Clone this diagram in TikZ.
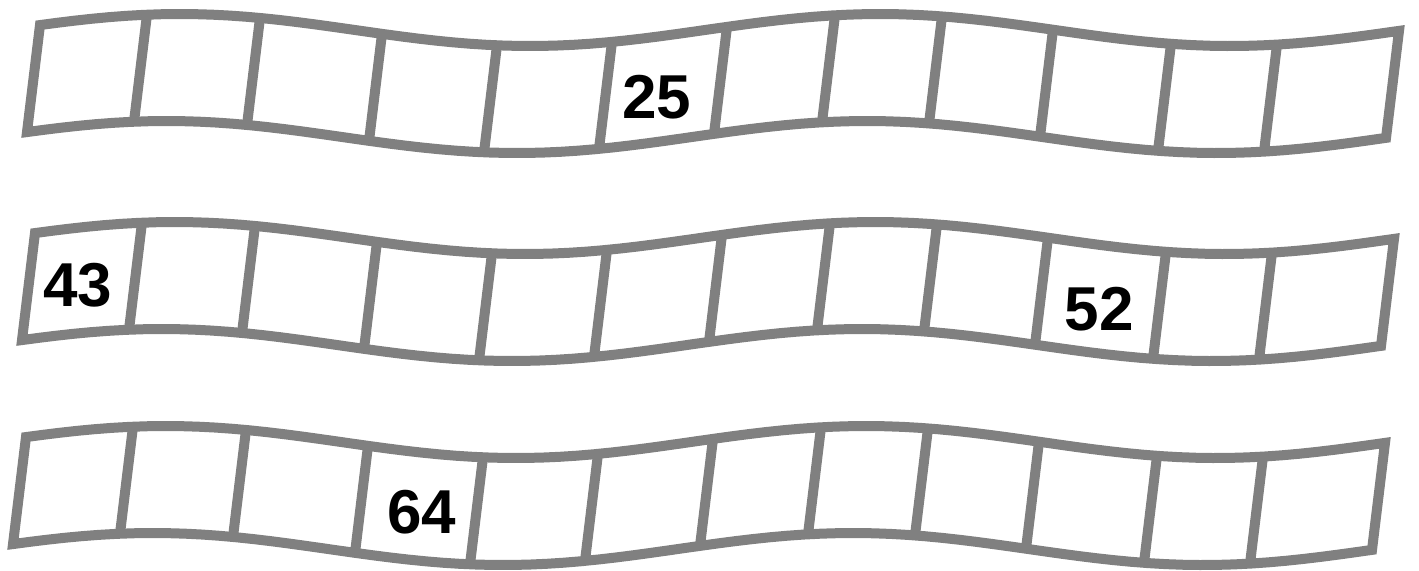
\documentclass[tikz,border=0pt]{standalone}
\usepackage{fontspec}
\setmainfont{Liberation Sans}
\tikzset{
  declare function={wtop(\x)=30-16*cos((\x-180)/700*360);},
  strip/.style={draw=gray, line width=5pt, line join=miter},
  numlabel/.style={font=\bfseries\fontsize{31}{31}\selectfont, inner sep=0pt}
}
\begin{document}
\begin{tikzpicture}[x=0.5pt, y=-0.5pt]
  \useasboundingbox (0,0) rectangle (1419,570);
  % three wavy strips, each a bit further left than the one above
  \foreach \dx/\dy in {0/0, -5/208, -14/412} {
    \begin{scope}[shift={(\dx,\dy)}]
      \draw[strip] plot[domain=40:1399, samples=80] (\x,{wtop(\x)})
        -- plot[domain=1399:40, samples=80] ({\x-13},{wtop(\x)+107}) -- cycle;
      \foreach \x in {147,260,382,497,612,727,835,942,1053,1171,1277}
        \draw[strip] (\x,{wtop(\x)}) -- ({\x-13},{wtop(\x)+107});
    \end{scope}
  }
  % the given numbers
  \node[numlabel] (n25) at (657,97) {25};
  \node[numlabel] (n43) at (78,285) {43};
  \node[numlabel] (n52) at (1099,309) {52};
  \node[numlabel] (n64) at (422,512) {64};
\end{tikzpicture}
\end{document}
